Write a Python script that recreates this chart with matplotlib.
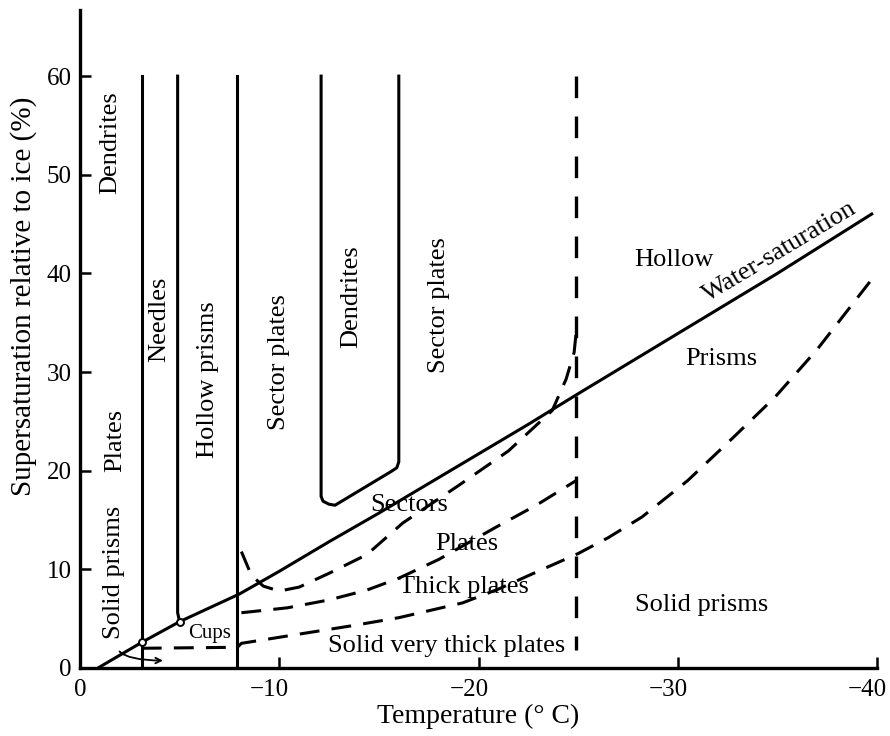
import matplotlib
matplotlib.use("Agg")
import matplotlib.pyplot as plt
from matplotlib.transforms import ScaledTranslation

plt.rcParams['font.family'] = ['Liberation Serif', 'DejaVu Serif']

# Water saturation over ice
water_t = [-0.9, -3.1, -5.0, -8.0, -10.0, -12.5, -15.0, -17.5, -20.0, -22.5, -25.0, -30.0, -35.0, -39.8]
water_s = [0.0, 2.6, 4.7, 7.5, 9.8, 12.8, 15.7, 18.7, 21.7, 24.7, 27.8, 33.9, 40.0, 46.1]

# Solid habit boundaries
needle_left_t = [-3.1, -3.1]
needle_left_s = [60.0, 0.0]
needle_right_t = [-4.9, -4.9, -5.0]
needle_right_s = [60.0, 5.6, 4.7]
prism_edge_t = [-7.9, -7.9]
prism_edge_s = [60.0, 0.0]
dendrite_t = [-12.1, -12.1, -12.2, -12.5, -12.8, -15.6, -15.9, -16.0, -16.0]
dendrite_s = [60.0, 17.4, 16.9, 16.6, 16.5, 19.9, 20.3, 20.9, 60.0]
junction_t = [-3.1, -5.0]
junction_s = [2.6, 4.7]

# Dashed boundaries
sector_t = [-8.1, -8.6, -9.2, -10.0, -11.0, -12.5, -14.4, -16.2, -19.0, -21.5, -23.7, -24.4, -24.8, -24.9]
sector_s = [11.8, 9.4, 8.3, 7.8, 8.2, 9.6, 11.5, 14.7, 18.5, 22.0, 26.1, 29.3, 32.0, 34.0]
plates_t = [-8.1, -10.4, -12.5, -14.4, -16.0, -18.0, -20.9, -22.9, -24.9]
plates_s = [5.6, 6.1, 6.9, 7.9, 9.1, 11.0, 14.3, 16.5, 19.0]
thick_t = [-3.1, -7.9, -8.1, -11.2, -13.7, -16.0, -19.2, -21.0, -23.1, -25.0, -26.5, -28.2,
           -30.5, -32.7, -34.9, -37.0, -39.7]
thick_s = [2.0, 2.1, 2.5, 3.5, 4.3, 5.1, 6.6, 8.0, 9.9, 11.6, 13.2, 15.3,
           19.0, 23.2, 27.5, 32.3, 39.3]
boundary25_t = [-24.9, -24.9]
boundary25_s = [60.0, 1.8]

# Region labels: (text, temperature, supersaturation)
vertical_labels = [
    ("Dendrites", -1.5, 53.3),
    ("Plates", -1.75, 23.1),
    ("Solid prisms", -1.7, 9.7),
    ("Needles", -4.0, 35.3),
    ("Hollow prisms", -6.4, 29.2),
    ("Sector plates", -10.0, 31.0),
    ("Dendrites", -13.6, 37.6),
    ("Sector plates", -18.0, 36.8),
]
horizontal_labels = [
    ("Hollow", -29.8, 40.8),
    ("Prisms", -32.2, 30.7),
    ("Sectors", -16.5, 15.9),
    ("Plates", -19.4, 12.0),
    ("Thick plates", -19.25, 7.6),
    ("Solid prisms", -31.2, 5.8),
    ("Solid very thick plates", -18.4, 1.6),
]

x_ticks = [0, -10, -20, -30, -40]
y_ticks = [0, 10, 20, 30, 40, 50, 60]

fig = plt.figure(figsize=(8.9, 7.36), dpi=100)
ax = fig.add_axes([80 / 890, 68 / 736, 797 / 890, 658 / 736])
ax.set_xlim(0, -40)
ax.set_ylim(0, 66.7)

lw = 2.2
ax.plot(water_t, water_s, color='black', lw=lw, solid_capstyle='butt')
for t, s in [(needle_left_t, needle_left_s), (needle_right_t, needle_right_s),
             (prism_edge_t, prism_edge_s), (dendrite_t, dendrite_s)]:
    ax.plot(t, s, color='black', lw=lw, solid_joinstyle='round')

for t, s in [(sector_t, sector_s), (plates_t, plates_s), (thick_t, thick_s)]:
    ax.plot(t, s, color='black', lw=2.2, linestyle=(0, (6.5, 4.0)))
ax.plot(boundary25_t, boundary25_s, color='black', lw=2.4, linestyle=(0, (6.5, 5.5)))

ax.plot(junction_t, junction_s, linestyle='none', marker='o', ms=5,
        mfc='white', mec='black', mew=1.4, zorder=5)

# Small arrow near the origin
ax.annotate("", xy=(-4.3, 0.75), xytext=(-1.9, 1.9),
            arrowprops=dict(arrowstyle='->', color='black', lw=1.3,
                            connectionstyle='angle3,angleA=-60,angleB=0'))

for txt, t, s in vertical_labels:
    ax.text(t, s, txt, rotation=90, ha='center', va='center', fontsize=19)
for txt, t, s in horizontal_labels:
    ax.text(t, s, txt, ha='center', va='baseline', fontsize=19)
ax.text(-6.5, 3.0, "Cups", ha='center', va='baseline', fontsize=15)
ax.text(-35.1, 42.2, "Water-saturation", rotation=31, ha='center', va='center',
        fontsize=19, rotation_mode='anchor')

for side in ('top', 'right'):
    ax.spines[side].set_visible(False)
for side in ('left', 'bottom'):
    ax.spines[side].set_linewidth(2.4)

ax.set_xticks(x_ticks)
ax.set_yticks(y_ticks)
ax.set_xticklabels(["0"] + ["\u2212%d" % abs(v) for v in x_ticks[1:]])
ax.tick_params(direction='in', length=8, width=1.8, labelsize=18)
ax.tick_params(axis='x', pad=8)
ax.tick_params(axis='y', pad=6)

# keep the digits under each tick; the minus sign hangs to the left
for lab, v in zip(ax.get_xticklabels(), x_ticks):
    if v != 0:
        lab.set_horizontalalignment('right')
        lab.set_transform(lab.get_transform() + ScaledTranslation(10 / 100, 0, fig.dpi_scale_trans))

ax.set_xlabel("Temperature (\u00b0 C)", fontsize=20)
ax.set_ylabel("Supersaturation relative to ice (%)", fontsize=21)
ax.xaxis.set_label_coords(0.4994, -0.054)
ax.yaxis.set_label_coords(-0.054, 0.565)

fig.savefig("out.png", dpi=100, facecolor='white')
